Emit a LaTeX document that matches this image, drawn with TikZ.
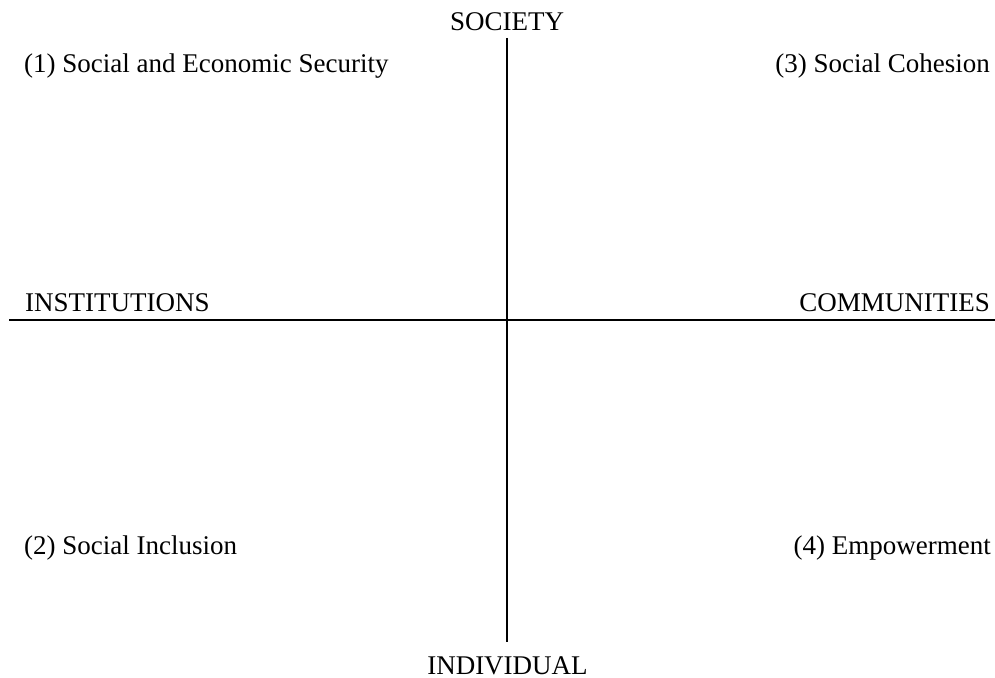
\documentclass[tikz,border=0pt]{standalone}
\usepackage{fontspec}
\setmainfont{Liberation Serif}
\begin{document}
\begin{tikzpicture}[x=1pt,y=-1pt,
  lbl/.style={inner sep=0pt,font=\fontsize{27}{32}\selectfont},
  axis/.style={line width=2pt}]
\useasboundingbox (0,0) rectangle (995,677);
% axis end points
\coordinate (top) at (507,38);
\coordinate (bottom) at (507,642);
\coordinate (left) at (9,320);
\coordinate (right) at (995,320);
\draw[axis] (top) -- (bottom);
\draw[axis] (left) -- (right);
% axis labels
\node[lbl,anchor=base] (society) at (507,31) {SOCIETY};
\node[lbl,anchor=base] (individual) at (507.5,674) {INDIVIDUAL};
\node[lbl,anchor=base west] (institutions) at (25,311) {INSTITUTIONS};
\node[lbl,anchor=base east] (communities) at (990,311) {COMMUNITIES};
% quadrant labels
\node[lbl,anchor=base west] (q1) at (24,73) {(1) Social and Economic Security};
\node[lbl,anchor=base east] (q3) at (990,73) {(3) Social Cohesion};
\node[lbl,anchor=base west] (q2) at (24,554) {(2) Social Inclusion};
\node[lbl,anchor=base east] (q4) at (991,554) {(4) Empowerment};
\end{tikzpicture}
\end{document}
